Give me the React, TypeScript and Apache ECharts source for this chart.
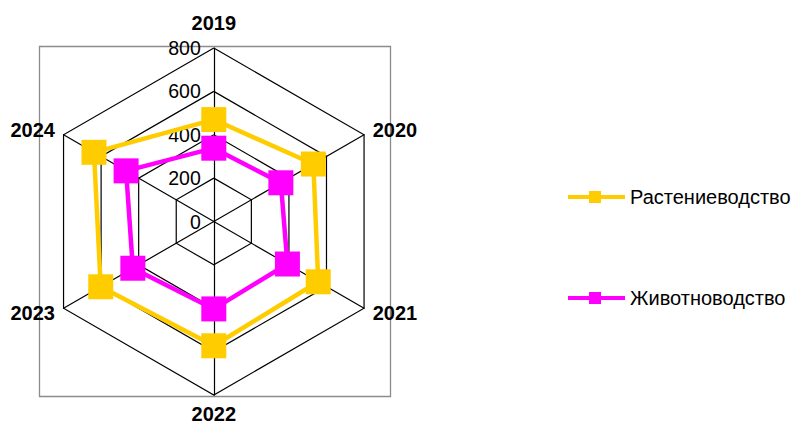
import React, { useEffect, useRef } from "react";
import * as echarts from "echarts";

const categories = ["2019", "2020", "2021", "2022", "2023", "2024"];
const cropValues = [470, 530, 556, 573, 602, 638];
const livestockValues = [338, 357, 392, 403, 431, 467];
const seriesNames = ["Растениеводство", "Животноводство"];
const axisMax = 800;

// indicator display order (counter-clockwise from top): 2019, 2024, 2023, 2022, 2021, 2020
const order = [0, 5, 4, 3, 2, 1];
const nameGaps = [15, 10, 10, 9, 10, 10];

const legendIcon =
  "path://M0,4 L57,4 L57,8 L0,8 Z M21,0 L33,0 L33,12 L21,12 Z";

export default function App() {
  const ref = useRef<HTMLDivElement>(null);
  useEffect(() => {
    document.body.style.margin = "0";
    const chart = echarts.init(ref.current!, null, { renderer: "svg" });
    const font = "'Liberation Sans', Arial, sans-serif";
    const indicator = order.map((i, k) => ({
      name: categories[i],
      min: 0,
      max: axisMax,
      nameGap: nameGaps[k],
      ...(k === 0
        ? {
            axisLabel: {
              show: true,
              fontSize: 19.5,
              color: "#000",
              fontFamily: font,
              margin: 13,
            },
          }
        : {}),
    }));
    chart.setOption({
      animation: false,
      backgroundColor: "#fff",
      graphic: [
        {
          type: "rect",
          z: 0,
          shape: { x: 39.5, y: 46.5, width: 351, height: 350 },
          style: { fill: "none", stroke: "#8c8c8c", lineWidth: 1.3 },
        },
      ],
      legend: {
        orient: "vertical",
        left: 563,
        top: 182,
        itemWidth: 57,
        itemHeight: 12,
        itemGap: 81,
        icon: legendIcon,
        textStyle: { fontSize: 20, color: "#000", fontFamily: font },
        itemStyle: { borderWidth: 0 },
        data: seriesNames,
      },
      radar: {
        center: [213.8, 221.5],
        radius: 173.5,
        shape: "polygon",
        splitNumber: 4,
        axisName: {
          color: "#000",
          fontSize: 20,
          lineHeight: 20,
          fontWeight: "bold",
          fontFamily: font,
        },
        axisLine: { lineStyle: { color: "#000", width: 1.2 } },
        splitLine: { lineStyle: { color: "#000", width: 1.2 } },
        splitArea: { show: false },
        axisTick: { show: false },
        axisLabel: { show: false },
        indicator,
      },
      series: [
        {
          type: "radar",
          symbol: "rect",
          symbolSize: 25,
          data: [
            {
              name: seriesNames[0],
              value: order.map((i) => cropValues[i]),
              itemStyle: { color: "#FFCC00" },
              lineStyle: { color: "#FFCC00", width: 4.5 },
            },
            {
              name: seriesNames[1],
              value: order.map((i) => livestockValues[i]),
              itemStyle: { color: "#FF00FF" },
              lineStyle: { color: "#FF00FF", width: 4.5 },
            },
          ],
        },
      ],
    });
    return () => chart.dispose();
  }, []);
  return <div ref={ref} style={{ width: 792, height: 425 }} />;
}
